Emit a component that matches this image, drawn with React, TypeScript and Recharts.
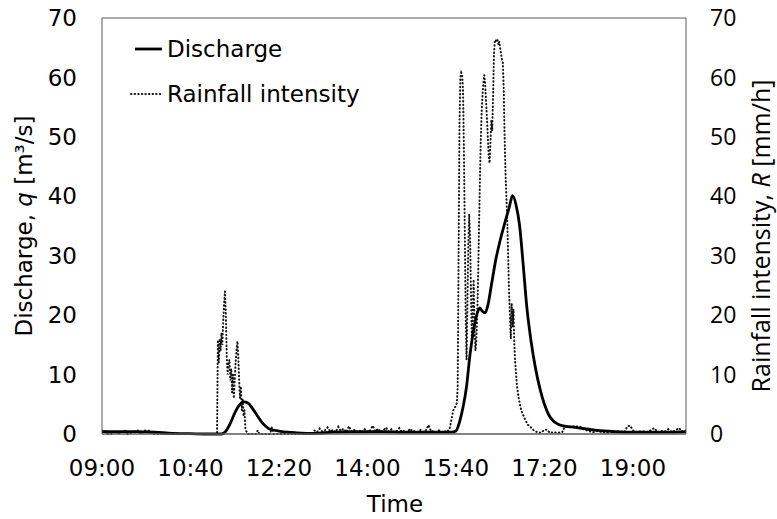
import React from "react";
import {
  ComposedChart,
  Line,
  XAxis,
  YAxis,
  Legend,
  Label,
  ReferenceLine,
} from "recharts";

// time in minutes after midnight
const dischargeTime = [
  540, 560, 580, 600, 620, 640, 660, 675, 680, 685, 690, 695, 700, 705, 710,
  715, 720, 725, 730, 740, 750, 760, 780, 800, 820, 840, 860, 880, 900, 920,
  935, 940, 944, 948, 952, 956, 960, 964, 967, 970, 973, 976, 980, 985, 990,
  995, 1000, 1004, 1008, 1012, 1016, 1020, 1025, 1030, 1035, 1040, 1045, 1050,
  1055, 1060, 1070, 1080, 1090, 1100, 1120, 1140, 1160, 1180, 1200,
];
const dischargeRate = [
  0.4, 0.4, 0.4, 0.3, 0.1, 0.05, 0, 0, 0.5, 1.8, 3.5, 4.8, 5.4, 5.2, 4.3,
  3.2, 2.1, 1.3, 0.8, 0.5, 0.3, 0.2, 0.1, 0.3, 0.4, 0.4, 0.4, 0.3, 0.3, 0.3,
  0.3, 0.5, 2, 4.5, 8, 13.5, 17.5, 20.3, 21.2, 20.6, 20.4, 21.6, 25, 29.3, 32.6,
  35.4, 38, 40.1, 38.5, 35, 28.5, 21.5, 15.5, 11, 7.6, 5, 3.2, 2.2,
  1.7, 1.4, 1.2, 1.0, 0.8, 0.6, 0.4, 0.3, 0.3, 0.3, 0.4,
];

const rainTime = [
  540, 543, 546, 552, 555, 558, 566, 569, 578, 581, 584, 588, 591, 594, 597,
  640, 670, 671, 672, 673, 674, 675, 676, 677, 678, 679, 680, 681, 682, 683,
  684, 685, 686, 687, 688, 689, 690, 691, 692, 693, 694, 695, 696, 697, 698,
  699, 700, 701, 702, 703, 705, 714, 716, 718, 730, 732, 734, 778, 780, 783,
  786, 789, 792, 795, 798, 801, 804, 807, 810, 813, 816, 819, 822, 825, 828,
  831, 834, 837, 840, 843, 846, 849, 852, 855, 858, 861, 864, 867, 870, 873,
  876, 879, 882, 885, 888, 891, 894, 897, 900, 903, 906, 909, 912, 915, 918,
  921, 924, 927, 930, 933, 935, 937, 939, 941, 942, 943, 944, 945, 946, 947,
  948, 949, 950, 951, 952, 953, 954, 955, 956, 957, 958, 959, 960, 961, 962,
  963, 964, 965, 966, 967, 968, 969, 970, 971, 972, 973, 974, 975, 976, 977,
  978, 979, 980, 981, 982, 983, 984, 985, 986, 987, 988, 989, 990, 991, 992,
  993, 994, 995, 996, 997, 998, 999, 1000, 1001, 1002, 1003, 1004, 1005, 1006,
  1007, 1008, 1009, 1011, 1013, 1015, 1018, 1021, 1024, 1028, 1032, 1036,
  1040, 1043, 1046, 1050, 1055, 1060, 1063, 1066, 1069, 1072, 1075, 1078,
  1081, 1084, 1090, 1095, 1100, 1105, 1110, 1115, 1120, 1125, 1130, 1134,
  1137, 1140, 1145, 1150, 1155, 1160, 1164, 1168, 1172, 1176, 1180, 1184,
  1188, 1192, 1196, 1200,
];
const rainRate = [
  0.6, 0.6, 0, 0, 0.5, 0, 0.6, 0, 0.5, 0.6, 0, 0.6, 0.5, 0.6, 0,
  0, 0, 15.8, 12, 16, 14, 17, 15, 19, 22, 24, 20, 13, 10, 12,
  12.5, 9, 11, 7, 10, 6, 9, 12, 14, 15.6, 13, 9, 6, 8, 4,
  6, 3, 4, 1, 0.5, 0, 0, 0.6, 0, 0, 1.1, 0, 0, 0.6, 0.3,
  0.9, 0.4, 0.6, 1.1, 0.4, 0.7, 0.3, 1.2, 0.5, 0.9, 0.3, 1.3, 0.4, 0.7, 0.3,
  0.6, 0.2, 0.8, 0.3, 0.6, 1.4, 0.4, 0.9, 0.3, 0.6, 1.1, 0.4, 0.8, 0.3, 0.5,
  1.0, 0.3, 0.6, 0.3, 0.9, 0.4, 0.5, 0.3, 0.7, 0.3, 0.6, 1.5, 0.4, 0.5, 0.3,
  0.6, 0.3, 0.5, 0.3, 1, 2.5, 4, 4.5, 5.2, 8, 30, 52, 60, 60.8, 60.5,
  58, 48, 34, 20, 12.5, 22, 32, 37, 33, 24, 16, 20, 26, 18, 14,
  15.5, 20, 26, 34, 42, 49, 54, 57, 59, 60.4, 59, 56, 53.4, 50, 47,
  45.6, 49, 52.8, 51, 57, 64, 66.3, 66.3, 66, 66.3, 65.5, 66, 65, 64, 63,
  62.5, 58, 50, 44, 40, 36, 30, 24, 20, 16, 22, 18, 21, 15,
  12, 10, 8, 6, 4.5, 3.5, 2.5, 1.6, 1.2, 0.6, 0.3, 0.2,
  0.7, 0.7, 0.2, 0.3, 0.2, 0.3, 1.2, 1.3, 1.2, 1.3, 1.2, 1.3,
  1.2, 0.8, 0.5, 0.3, 0.5, 0.3, 0.2, 0.4, 0.3, 0.5, 0.3, 1.3,
  1.4, 0.6, 0.3, 0.5, 0.3, 0.6, 1.0, 0.3, 0.5, 0.4, 0.8, 0.3,
  0.6, 1.0, 0.4, 0.6,
];

const timeTicks = [540, 640, 740, 840, 940, 1040, 1140];
const valueTicks = [0, 10, 20, 30, 40, 50, 60, 70];
const seriesNames = ["Discharge", "Rainfall intensity"];

const dischargeData = dischargeTime.map((t, i) => ({ t, q: dischargeRate[i] }));
const rainData = rainTime.map((t, i) => ({ t, r: rainRate[i] }));

const MAIN_FONT = "'DejaVu Sans', Verdana, sans-serif";
const SIDE_FONT = "'Open Sans', sans-serif";
const AXIS_GRAY = "#5a5a5a";
const DOTS = "0.4 3.2";

const fmtTime = (m: number) =>
  `${String(Math.floor(m / 60)).padStart(2, "0")}:${String(m % 60).padStart(2, "0")}`;

function LegendBox() {
  const row: React.CSSProperties = {
    display: "flex",
    alignItems: "center",
    height: 45,
    fontFamily: MAIN_FONT,
    fontSize: 23,
    color: "#000",
    whiteSpace: "nowrap",
  };
  return (
    <div>
      <div style={row}>
        <svg width={37} height={10}>
          <line x1={5} y1={5} x2={32} y2={5} stroke="#000" strokeWidth={2.8} />
        </svg>
        <span>{seriesNames[0]}</span>
      </div>
      <div style={row}>
        <svg width={37} height={10}>
          <line
            x1={1}
            y1={5}
            x2={32}
            y2={5}
            stroke="#111"
            strokeWidth={2}
            strokeLinecap="round"
            strokeDasharray={DOTS}
          />
        </svg>
        <span>{seriesNames[1]}</span>
      </div>
    </div>
  );
}

const LeftTitle = () => (
  <text
    x={32}
    y={226}
    transform="rotate(-90 32 226)"
    textAnchor="middle"
    fontFamily={MAIN_FONT}
    fontSize={23}
    fill="#000"
  >
    Discharge, <tspan fontStyle="italic">q</tspan> [m³/s]
  </text>
);

const RightTitle = () => (
  <text
    x={770}
    y={236}
    transform="rotate(-90 770 236)"
    textAnchor="middle"
    fontFamily={SIDE_FONT}
    fontSize={25}
    fill="#000"
  >
    Rainfall intensity, <tspan fontStyle="italic">R</tspan> [mm/h]
  </text>
);

const BottomTitle = () => (
  <text
    x={395}
    y={512}
    textAnchor="middle"
    fontFamily={MAIN_FONT}
    fontSize={23}
    fill="#000"
  >
    Time
  </text>
);

export default function App() {
  return (
    <div style={{ position: "absolute", left: 0, top: 0, background: "#fff" }}>
      <ComposedChart
        width={777}
        height={519}
        margin={{ top: 18, right: 0, bottom: 0, left: 0 }}
      >
        <XAxis
          dataKey="t"
          type="number"
          domain={[540, 1200]}
          ticks={timeTicks}
          tickFormatter={fmtTime}
          allowDataOverflow
          height={85}
          tickLine={false}
          tickSize={0}
          tickMargin={26}
          axisLine={{ stroke: AXIS_GRAY, strokeWidth: 1.5 }}
          tick={{ fontFamily: MAIN_FONT, fontSize: 23, fill: "#000" }}
        >
          <Label content={BottomTitle} />
        </XAxis>
        <YAxis
          yAxisId="q"
          domain={[0, 70]}
          ticks={valueTicks}
          width={102}
          tickLine={false}
          tickSize={0}
          tickMargin={25}
          axisLine={{ stroke: AXIS_GRAY }}
          tick={{ fontFamily: MAIN_FONT, fontSize: 23, fill: "#000" }}
        >
          <Label content={LeftTitle} />
        </YAxis>
        <YAxis
          yAxisId="r"
          orientation="right"
          domain={[0, 70]}
          ticks={valueTicks}
          width={91}
          tickLine={false}
          tickSize={0}
          tickMargin={24}
          axisLine={{ stroke: AXIS_GRAY }}
          tick={{ fontFamily: SIDE_FONT, fontSize: 23, fill: "#000" }}
        >
          <Label content={RightTitle} />
        </YAxis>
        <ReferenceLine yAxisId="q" y={70} stroke={AXIS_GRAY} />
        <Legend
          layout="vertical"
          align="center"
          verticalAlign="middle"
          content={LegendBox}
          wrapperStyle={{ left: 130, top: 26, width: "auto", height: "auto" }}
        />
        <Line
          yAxisId="r"
          data={rainData}
          dataKey="r"
          name={seriesNames[1]}
          type="linear"
          stroke="#111"
          strokeWidth={2}
          strokeLinecap="round"
          strokeDasharray={DOTS}
          dot={false}
          isAnimationActive={false}
        />
        <Line
          yAxisId="q"
          data={dischargeData}
          dataKey="q"
          name={seriesNames[0]}
          type="monotone"
          stroke="#000"
          strokeWidth={2.8}
          dot={false}
          isAnimationActive={false}
        />
      </ComposedChart>
    </div>
  );
}
